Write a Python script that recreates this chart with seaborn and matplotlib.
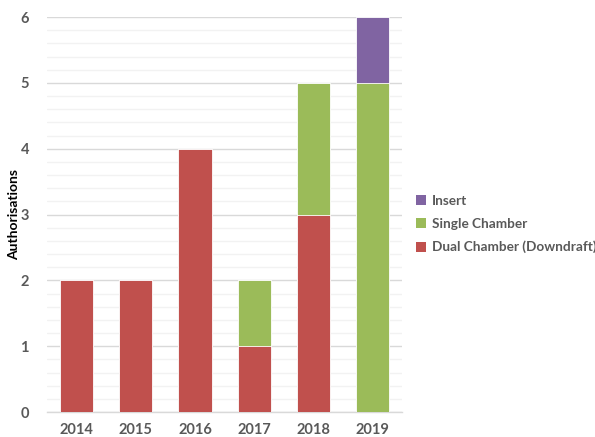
import matplotlib
matplotlib.use("Agg")
import matplotlib.pyplot as plt
from matplotlib.patches import Patch
from matplotlib.ticker import MultipleLocator
import seaborn as sns
import pandas as pd
import numpy as np

years = ["2014", "2015", "2016", "2017", "2018", "2019"]
dual_chamber = [2, 2, 4, 1, 3, 0]
single_chamber = [0, 0, 0, 1, 2, 5]
insert = [0, 0, 0, 0, 0, 1]

series_names = ["Insert", "Single Chamber", "Dual Chamber (Downdraft)"]
colors = {"Insert": "#8064A2", "Single Chamber": "#9BBB59",
          "Dual Chamber (Downdraft)": "#C0504D"}

sns.set_theme(style="white")
plt.rcParams["font.family"] = ["Lato", "DejaVu Sans"]

fig = plt.figure(figsize=(5.95, 4.37), dpi=100)
ax = fig.add_axes([0.079, 0.057, 0.597, 0.904])

dual = np.array(dual_chamber)
single_top = dual + np.array(single_chamber)
insert_top = single_top + np.array(insert)

df = pd.DataFrame({"year": years, "dual": dual, "single": single_top, "insert": insert_top})

# stacked bars: draw cumulative totals from the top down
for col, name in [("insert", "Insert"), ("single", "Single Chamber"),
                  ("dual", "Dual Chamber (Downdraft)")]:
    sns.barplot(data=df, x="year", y=col, color=colors[name], saturation=1,
                width=0.56, edgecolor="#ffffff", linewidth=0.6, ax=ax, zorder=3)

ax.set_ylim(0, 6)
ax.set_xlim(-0.5, 5.5)
ax.yaxis.set_major_locator(MultipleLocator(1))
ax.yaxis.set_minor_locator(MultipleLocator(0.2))
ax.grid(axis="y", which="major", color="#d9d9d9", linewidth=1.0, zorder=0)
ax.grid(axis="y", which="minor", color="#f2f2f2", linewidth=1.0, zorder=0)
ax.set_axisbelow(True)

for s in ["top", "right", "left"]:
    ax.spines[s].set_visible(False)
ax.spines["bottom"].set_color("#d9d9d9")
ax.spines["bottom"].set_linewidth(1.0)

ax.set_xlabel("")
ax.set_ylabel("Authorisations", fontsize=10, fontweight="bold", color="#000000")
ax.yaxis.set_label_coords(-0.076, 0.5)
ax.tick_params(axis="both", which="both", length=0, labelsize=10.5, labelcolor="#595959")
ax.tick_params(axis="x", pad=8)
ax.tick_params(axis="y", pad=13)
for lab in ax.get_xticklabels() + ax.get_yticklabels():
    lab.set_fontweight("bold")

handles = [Patch(facecolor=colors[n], edgecolor="none", label=n) for n in series_names]
leg = fig.legend(handles=handles, loc="center left", bbox_to_anchor=(0.699, 0.487),
                 frameon=False, borderpad=0, borderaxespad=0,
                 handlelength=0.75, handleheight=0.75, handletextpad=0.4,
                 labelspacing=0.8, prop={"size": 9.8, "weight": "bold"})
for t in leg.get_texts():
    t.set_color("#595959")

fig.savefig("out.png", dpi=100, facecolor="white")
